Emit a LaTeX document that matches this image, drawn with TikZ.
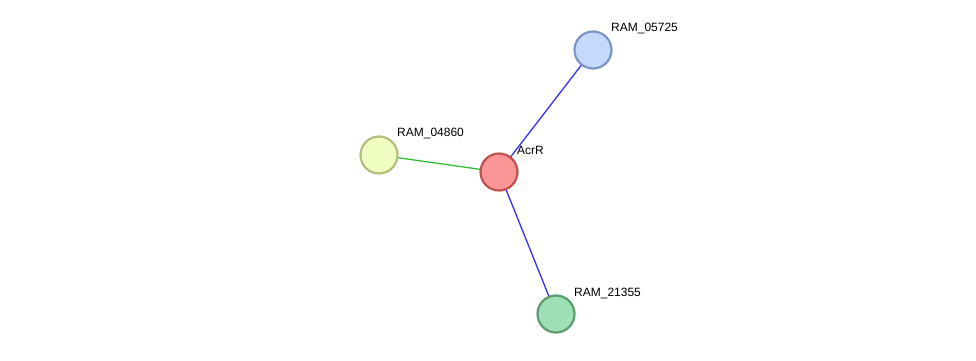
\documentclass[tikz,border=0pt]{standalone}
\usepackage{fontspec}
\setmainfont{Liberation Sans}
\definecolor{acrF}{RGB}{252,150,150}
\definecolor{acrD}{RGB}{190,80,80}
\definecolor{bluF}{RGB}{197,218,251}
\definecolor{bluD}{RGB}{122,150,196}
\definecolor{yelF}{RGB}{240,253,192}
\definecolor{yelD}{RGB}{178,190,122}
\definecolor{grnF}{RGB}{158,224,181}
\definecolor{grnD}{RGB}{90,156,110}
\definecolor{edgeB}{RGB}{50,50,245}
\definecolor{edgeG}{RGB}{50,190,50}
\tikzset{
  prot/.style={circle,minimum size=37pt,inner sep=0pt,line width=2.2pt},
  lbl/.style={font=\fontsize{12}{14}\selectfont,anchor=west,inner sep=0pt},
  edge/.style={line width=1.3pt}
}
\begin{document}
\begin{tikzpicture}[x=1pt,y=-1pt]
\useasboundingbox (0,0) rectangle (976,360);
\coordinate (cA) at (499,172);
\coordinate (cB) at (593,50);
\coordinate (cY) at (379,155);
\coordinate (cG) at (556,314);
\draw[edge,edgeB] (cA) -- (cB);
\draw[edge,edgeB] (cA) -- (cG);
\draw[edge,edgeG] (cA) -- (cY);
\node[prot,fill=acrF,draw=acrD] (acr) at (cA) {};
\node[prot,fill=bluF,draw=bluD] (r05725) at (cB) {};
\node[prot,fill=yelF,draw=yelD] (r04860) at (cY) {};
\node[prot,fill=grnF,draw=grnD] (r21355) at (cG) {};
\node[lbl] (tA) at (517,150) {AcrR};
\node[lbl] (tB) at (611,28) {RAM\_05725};
\node[lbl] (tY) at (397,133) {RAM\_04860};
\node[lbl] (tG) at (574,293) {RAM\_21355};
\end{tikzpicture}
\end{document}
